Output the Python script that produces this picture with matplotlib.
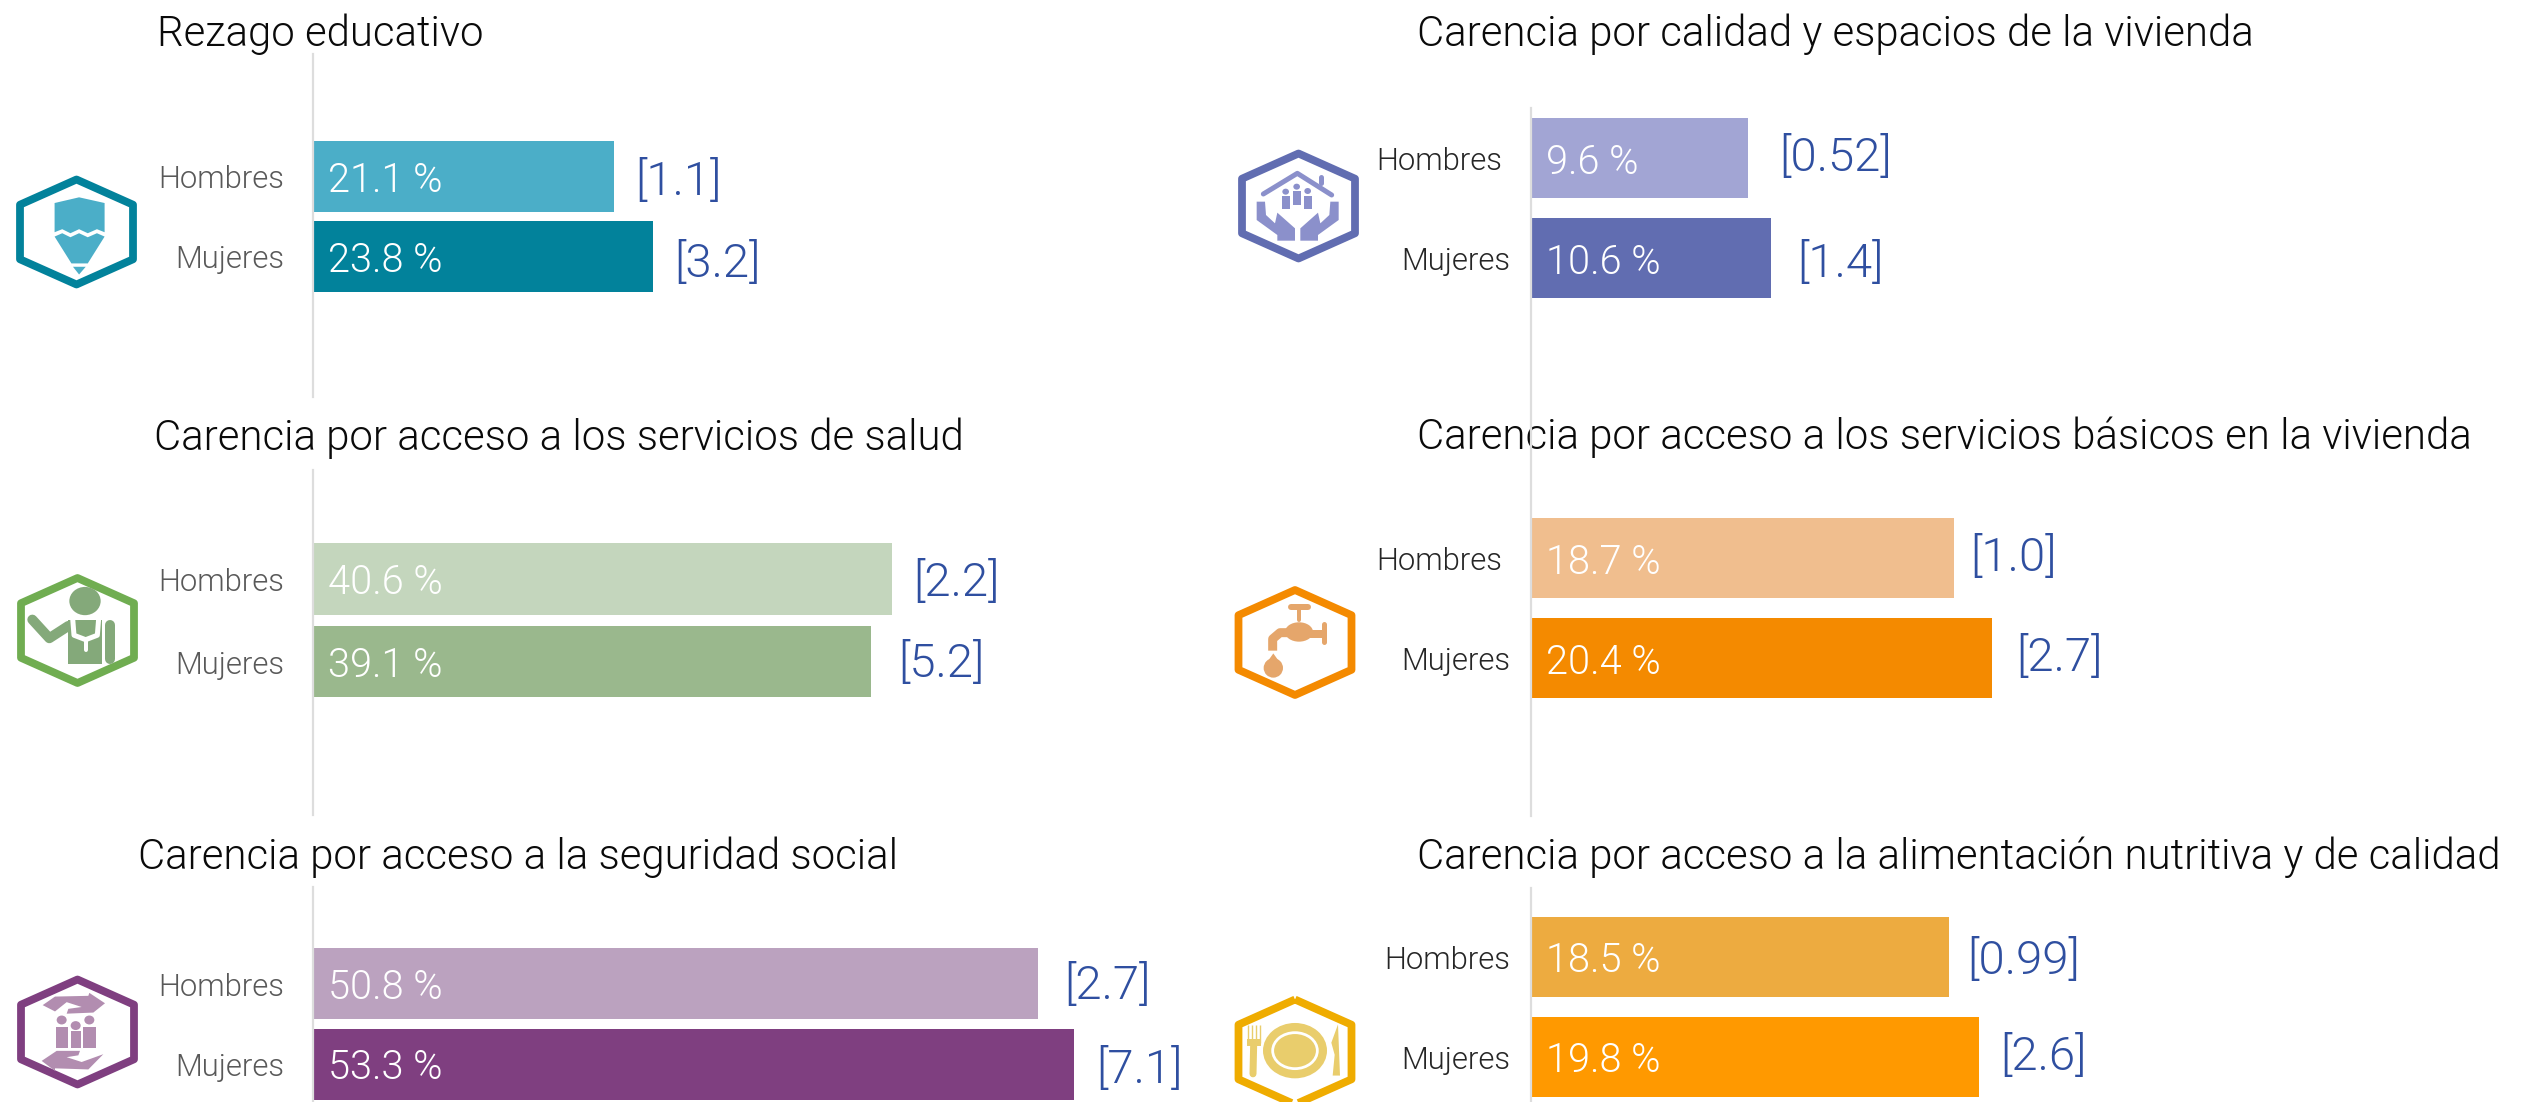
import numpy as np
import matplotlib
matplotlib.use("Agg")
import matplotlib.pyplot as plt
from matplotlib.patches import Polygon, Ellipse, Rectangle
from matplotlib.transforms import ScaledTranslation

W, H = 2539, 1102
plt.rcParams["font.family"] = ["Roboto", "DejaVu Sans"]
plt.rcParams["font.weight"] = 300

# data
categories = ["Hombres", "Mujeres"]
titles = [
    "Rezago educativo",
    "Carencia por acceso a los servicios de salud",
    "Carencia por acceso a la seguridad social",
    "Carencia por calidad y espacios de la vivienda",
    "Carencia por acceso a los servicios básicos en la vivienda",
    "Carencia por acceso a la alimentación nutritiva y de calidad",
]
hombres = [21.1, 40.6, 50.8, 9.6, 18.7, 18.5]
mujeres = [23.8, 39.1, 53.3, 10.6, 20.4, 19.8]
hombres_err = ["[1.1]", "[2.2]", "[2.7]", "[0.52]", "[1.0]", "[0.99]"]
mujeres_err = ["[3.2]", "[5.2]", "[7.1]", "[1.4]", "[2.7]", "[2.6]"]

# styles
light = ["#4BAEC8", "#C4D6BD", "#BBA2BF", "#A2A5D4", "#F0BE8E", "#EDAB40"]
dark = ["#02829B", "#9AB88D", "#7F3F80", "#616DB1", "#F48A00", "#FF9900"]
hex_col = ["#02829B", "#70AD51", "#7F3F80", "#616DB1", "#F48A00", "#EFAC00"]
glyph_col = ["#4BAEC8", "#84A97A", "#B28DB0", "#8B90CB", "#E5A66B", "#E9CD6C"]

# layout in pixels of the reference
px_per_unit = [14.27, 14.27, 14.27, 22.62, 22.62, 22.62]
bar_left = [313, 313, 313, 1531, 1531, 1531]
line_top = [54, 470, 887, 108, 430, 888]
line_bottom = [397, 815, 1102, 430, 816, 1102]
first_center = [176.5, 579, 983.5, 158.5, 558.5, 957]
pitch = [80, 82.5, 80.5, 100, 100, 100]
bar_px = [71.5, 71.5, 71, 80, 80, 80]
title_x = [157, 154, 138, 1417, 1417, 1417]
title_y = [46, 450, 869, 46, 449, 869]
label_col = ["#595959"] * 3 + ["#262626"] * 3
label_dx = [[0, 0], [0, 0], [0, 0], [0, 8], [0, 8], [8, 8]]
err_dx = [[21, 22], [21, 27], [26, 23], [31, 26], [16, 24], [18, 21]]
err_dy = [[1, 3], [-1, -2], [-3, 1], [-5, 1], [-5, -5], [-1, -5]]
hex_center = [(76.5, 232), (77.5, 630.5), (77.5, 1032), (1298.5, 206), (1295, 642.5), (1295, 1052)]

fig = plt.figure(figsize=(W / 100, H / 100), dpi=100)
bg = fig.add_axes([0, 0, 1, 1])
bg.set_xlim(0, W)
bg.set_ylim(H, 0)
bg.axis("off")


def poly(pts, col, org, sx, sy):
    pts = [((x / sx) + org[0], (y / sy) + org[1]) for x, y in pts]
    bg.add_patch(Polygon(pts, closed=True, fc=col, ec="none"))


def stroke(pts, col, lw, org, sx, sy, cap="round"):
    xs = [p[0] / sx + org[0] for p in pts]
    ys = [p[1] / sy + org[1] for p in pts]
    bg.plot(xs, ys, color=col, lw=lw * 0.72, solid_capstyle=cap, solid_joinstyle="round")


def oval(x, y, rx, ry, col, org, sx, sy, ec="none", lw=0):
    bg.add_patch(Ellipse((x / sx + org[0], y / sy + org[1]), 2 * rx / sx, 2 * ry / sy, fc=col, ec=ec, lw=lw))


def box(x0, y0, x1, y1, col, org, sx, sy):
    bg.add_patch(Rectangle((x0 / sx + org[0], y0 / sy + org[1]), (x1 - x0) / sx, (y1 - y0) / sy, fc=col, ec="none"))


def hexagon(cx, cy, col):
    w, h = 56.5, 52.5
    pts = [(cx, cy - h), (cx + w, cy - h * 0.52), (cx + w, cy + h * 0.52),
           (cx, cy + h), (cx - w, cy + h * 0.52), (cx - w, cy - h * 0.52)]
    bg.add_patch(Polygon(pts, closed=True, fc="none", ec=col, lw=5.6, joinstyle="round"))


def pencil(c):
    a = ((0, 0), 1.96, 2.98)
    poly([(107, 605), (155, 588), (205, 605), (205, 692), (190, 683), (172, 695), (155, 683), (138, 695), (122, 683), (107, 692)], c, *a)
    poly([(107, 705), (122, 695), (138, 707), (155, 695), (172, 707), (190, 695), (205, 705), (172, 785), (140, 785)], c, *a)
    poly([(143, 795), (168, 795), (155, 818)], c, *a)


def doctor(c):
    a = ((0, 520), 3, 2.69)
    oval(255, 218, 47, 38, c, *a)
    stroke([(97, 268), (148, 318), (205, 285)], c, 10, *a)
    box(205, 270, 305, 387, c, *a)
    stroke([(218, 265), (222, 310), (257, 322), (292, 310), (296, 265)], "white", 5, *a)
    stroke([(257, 322), (257, 350)], "white", 4, *a)
    stroke([(329, 282), (329, 375)], c, 10, *a)


def family_hands(c):
    a = ((0, 520), 3, 2.69)
    poly([(128, 1305), (165, 1282), (265, 1280), (268, 1272), (315, 1300), (280, 1325), (200, 1328), (205, 1315), (245, 1310), (200, 1297), (165, 1322)], c, *a)
    poly([(125, 1455), (170, 1428), (240, 1428), (235, 1440), (200, 1445), (245, 1458), (310, 1437), (265, 1478), (165, 1475), (165, 1482)], c, *a)
    for x, y in [(185, 1345), (227, 1360), (268, 1345)]:
        oval(x, y, 15, 12, c, *a)
    box(167, 1363, 205, 1420, c, *a)
    box(212, 1375, 242, 1420, c, *a)
    box(250, 1363, 287, 1420, c, *a)


def house_hands(c):
    a = ((1200, 100), 3, 3)
    stroke([(190, 282), (292, 220), (395, 285)], c, 5, *a)
    stroke([(363, 232), (363, 250)], c, 5, *a)
    for x, y in [(257, 275), (290, 260), (323, 273)]:
        oval(x, y, 10, 9, c, *a)
    box(245, 287, 270, 327, c, *a)
    box(278, 272, 302, 314, c, *a)
    box(311, 287, 335, 327, c, *a)
    left = [(170, 305), (195, 305), (198, 345), (225, 370), (232, 338), (285, 385), (285, 422), (232, 422), (232, 405), (170, 360)]
    poly(left, c, *a)
    poly([(586 - x, y) for x, y in left], c, *a)


def faucet(c):
    a = ((1200, 560), 3, 2.89)
    stroke([(272, 136), (324, 136)], c, 6, *a)
    stroke([(297, 136), (297, 172)], c, 4, *a)
    oval(297, 208, 42, 28, c, *a)
    stroke([(297, 215), (372, 215)], c, 8, *a, cap="butt")
    stroke([(372, 185), (372, 238)], c, 5, *a)
    stroke([(290, 210), (240, 210), (218, 228), (218, 262)], c, 9, *a, cap="butt")
    oval(220, 312, 29, 28, c, *a)
    poly([(220, 270), (194, 305), (246, 305)], c, *a)


def plate(c):
    a = ((1200, 560), 3, 2.89)
    oval(285, 1418, 96, 80, c, *a)
    oval(285, 1418, 67, 52, "none", *a, ec="white", lw=2.0)
    for x in (144, 156, 168, 180):
        stroke([(x, 1345), (x, 1395)], c, 1.4, *a, cap="butt")
    box(142, 1385, 182, 1405, c, *a)
    stroke([(161, 1400), (159, 1485)], c, 7, *a)
    poly([(414, 1342), (420, 1490), (398, 1490), (404, 1430), (394, 1395)], c, *a)


glyphs = [pencil, doctor, family_hands, house_hands, faucet, plate]

for i, title in enumerate(titles):
    top, bottom = line_top[i], line_bottom[i]
    width = W - bar_left[i] - 2
    ax = fig.add_axes([bar_left[i] / W, 1 - bottom / H, width / W, (bottom - top) / H])
    ax.patch.set_alpha(0)
    ax.set_xlim(0, width / px_per_unit[i])
    ax.set_ylim((bottom - first_center[i]) / pitch[i], (top - first_center[i]) / pitch[i])
    vals = [hombres[i], mujeres[i]]
    errs = [hombres_err[i], mujeres_err[i]]
    ax.barh([0, 1], vals, height=bar_px[i] / pitch[i], color=[light[i], dark[i]])
    ax.set_yticks([0, 1], categories)
    ax.set_xticks([])
    ax.tick_params(axis="y", length=0, pad=21, labelsize=22.3, labelcolor=label_col[i])
    for j, lab in enumerate(ax.get_yticklabels()):
        shift = ScaledTranslation(label_dx[i][j] / 100, -0.5 / 100, fig.dpi_scale_trans)
        lab.set_transform(lab.get_transform() + shift)
    for s in ("top", "right", "bottom"):
        ax.spines[s].set_visible(False)
    ax.spines["left"].set_color("#DDDDDD")
    ax.spines["left"].set_linewidth(1.6)
    for j, v in enumerate(vals):
        ax.annotate(f"{v} %", (0, j), xytext=(15 * 0.72, 0), textcoords="offset points",
                    color="white", fontsize=28.6, va="center_baseline", ha="left")
        ax.annotate(errs[j], (v, j), xytext=(err_dx[i][j] * 0.72, -err_dy[i][j] * 0.72),
                    textcoords="offset points", color="#2F4FA0", fontsize=34,
                    va="center_baseline", ha="left")
    bg.text(title_x[i], title_y[i], title, fontsize=30.2, color="#0A0A0A", va="baseline", ha="left")
    cx, cy = hex_center[i]
    hexagon(cx, cy, hex_col[i])
    glyphs[i](glyph_col[i])

bg.set_xlim(0, W)
bg.set_ylim(H, 0)
fig.savefig("out.png", dpi=100)
